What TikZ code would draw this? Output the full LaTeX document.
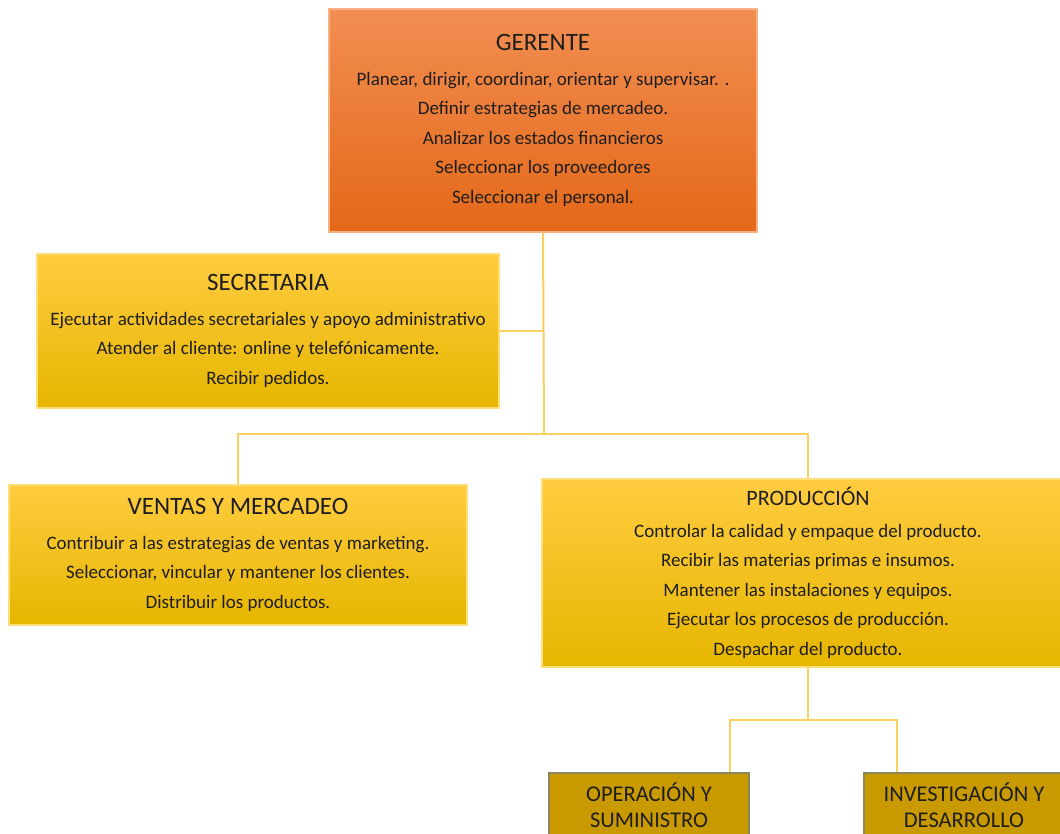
\documentclass[tikz,border=0pt]{standalone}
\usepackage{fontspec}
\setmainfont{Carlito}
\definecolor{txt}{RGB}{30,30,30}
\definecolor{gtop}{RGB}{242,142,82}
\definecolor{gmid}{RGB}{240,120,45}
\definecolor{gbot}{RGB}{228,104,24}
\definecolor{gedge}{RGB}{248,175,130}
\definecolor{ytop}{RGB}{255,204,64}
\definecolor{ymid}{RGB}{255,192,0}
\definecolor{ybot}{RGB}{230,182,0}
\definecolor{yedge}{RGB}{255,222,120}
\definecolor{dfill}{RGB}{201,154,0}
\definecolor{dedge}{RGB}{140,135,90}
\definecolor{conn}{RGB}{252,208,95}
\tikzset{
  body/.style={font=\fontsize{19}{29.5}\selectfont, text=txt, align=center, inner sep=0pt},
  gbox/.style={body, draw=gedge, line width=1.2pt, top color=gtop, middle color=gmid, bottom color=gbot},
  ybox/.style={body, draw=yedge, line width=1.2pt, top color=ytop, middle color=ymid, bottom color=ybot},
  dbox/.style={font=\fontsize{22.5}{26}\selectfont, text=txt, align=center, inner sep=0pt, fill=dfill, draw=dedge, line width=1.2pt},
  conn/.style={draw=conn, line width=2pt},
}
\newcommand{\ttl}[1]{{\fontsize{25}{28}\selectfont #1}\\[5pt]}
\begin{document}
\begin{tikzpicture}[x=1pt,y=-1pt]
\useasboundingbox (0,0) rectangle (1060,833);
\clip (0,0) rectangle (1060,833);
\fill[white] (0,0) rectangle (1060,833);
\coordinate (j1) at (544,434);
\coordinate (j2) at (808,720);
\node[gbox, minimum width=428pt, minimum height=223pt] (ger) at (543,120.5)
  {\ttl{GERENTE}Planear, dirigir, coordinar, orientar y supervisar. .\\Definir estrategias de mercadeo.\\Analizar los estados financieros\\Seleccionar los proveedores\\Seleccionar el personal.};
\node[ybox, minimum width=462pt, minimum height=154pt] (sec) at (268,331)
  {\ttl{SECRETARIA}Ejecutar actividades secretariales y apoyo administrativo\\Atender al cliente: online y telefónicamente.\\Recibir pedidos.};
\node[ybox, minimum width=458pt, minimum height=140pt] (ven) at (238,555)
  {\ttl{VENTAS Y MERCADEO}Contribuir a las estrategias de ventas y marketing.\\Seleccionar, vincular y mantener los clientes.\\Distribuir los productos.};
\node[ybox, minimum width=532pt, minimum height=188pt] (pro) at (808,573)
  {{\fontsize{22}{24}\selectfont PRODUCCIÓN}\\[2pt]Controlar la calidad y empaque del producto.\\Recibir las materias primas e insumos.\\Mantener las instalaciones y equipos.\\Ejecutar los procesos de producción.\\Despachar del producto.};
\node[dbox, minimum width=200pt, minimum height=64pt] (ope) at (649,805)
  {OPERACIÓN Y\\SUMINISTRO};
\node[dbox, minimum width=200pt, minimum height=64pt] (inv) at (964,805)
  {INVESTIGACIÓN Y\\DESARROLLO};
\draw[conn] (ger.south) -- (j1);
\draw[conn] (sec.east) -- (sec.east -| ger.south);
\draw[conn] (ven.north) |- (j1) -| (pro.north);
\draw[conn] (pro.south) -- (j2);
\draw[conn] ([xshift=-20pt]ope.north east) |- (j2) -| ([xshift=34pt]inv.north west);
\end{tikzpicture}
\end{document}
